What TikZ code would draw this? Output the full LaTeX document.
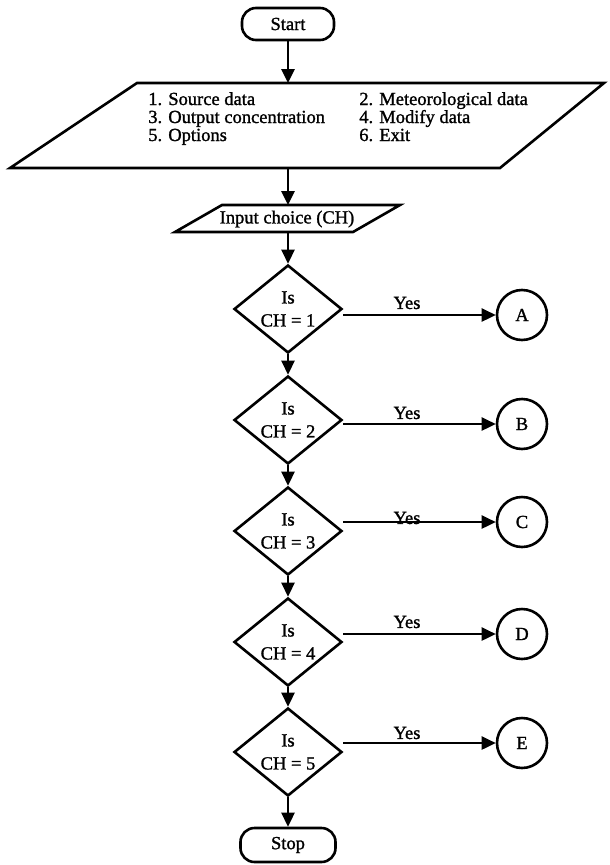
\documentclass[tikz,border=0pt]{standalone}
\usepackage{fontspec}
\setmainfont{Liberation Serif}
\newfontfamily\dfont{Liberation Serif}[FakeBold=1.3]
\usetikzlibrary{arrows.meta,shapes.geometric}
\newcommand\fsz{\dfont\fontsize{18.5}{23}\selectfont}
\begin{document}
\begin{tikzpicture}[x=1pt,y=-1pt,
  line width=2.6pt,
  arr/.style={-{Triangle[length=14pt,width=13pt]}},
  term/.style={draw, rounded corners=14pt, minimum width=92pt, minimum height=32pt, inner sep=0pt, font=\fsz},
  dec/.style={draw, diamond, aspect=1.23, minimum width=108pt, minimum height=88pt, inner sep=0pt, align=center, font=\fsz},
  conn/.style={draw, circle, minimum size=50pt, inner sep=0pt, font=\fsz},
  lbl/.style={font=\fsz, inner sep=0pt},
  txt/.style={font=\fsz, inner sep=0pt, anchor=base west}]
\useasboundingbox (0,0) rectangle (610,865);
% terminals
\node[term] (start) at (288,24) {Start};
\node[term, minimum width=95pt, minimum height=34pt] (stop) at (288,845) {Stop};
% menu parallelogram
\draw[line join=miter] (137,83) -- (604,83) -- (500,168) -- (10,168) -- cycle;
\coordinate (mtop) at (288,83);
\coordinate (mbot) at (288,168);
\node[txt] (m1) at (147,105) {1. Source data};
\node[txt] (m3) at (147,123) {3. Output concentration};
\node[txt] (m5) at (147,141) {5. Options};
\node[txt] (m2) at (358,105) {2. Meteorological data};
\node[txt] (m4) at (358,123) {4. Modify data};
\node[txt] (m6) at (358,141) {6. Exit};
% input parallelogram
\draw (222,205) -- (400,205) -- (353,232) -- (175,232) -- cycle;
\coordinate (itop) at (288,205);
\coordinate (ibot) at (288,232);
\node[lbl] (inp) at (287,219) {Input choice (CH)};
% decisions
\node[dec] (d1) at (288,309) {Is\\CH = 1};
\node[dec] (d2) at (288,420) {Is\\CH = 2};
\node[dec] (d3) at (288,531) {Is\\CH = 3};
\node[dec] (d4) at (288,642) {Is\\CH = 4};
\node[dec] (d5) at (288,752) {Is\\CH = 5};
% connectors
\node[conn] (a) at (522,315) {A};
\node[conn] (b) at (522,424) {B};
\node[conn] (c) at (522,522) {C};
\node[conn] (d) at (522,634) {D};
\node[conn] (e) at (522,743) {E};
% yes labels
\node[lbl] (y1) at (407,303) {Yes};
\node[lbl] (y2) at (407,413) {Yes};
\node[lbl] (y3) at (407,518) {Yes};
\node[lbl] (y4) at (407,622) {Yes};
\node[lbl] (y5) at (407,733) {Yes};
% arrows
\draw[arr] (start) -- (mtop);
\draw[arr] (mbot) -- (itop);
\draw[arr] (ibot) -- (d1);
\draw[arr] (d1) -- (d2);
\draw[arr] (d2) -- (d3);
\draw[arr] (d3) -- (d4);
\draw[arr] (d4) -- (d5);
\draw[arr] (d5) -- (stop);
\draw[arr] (d1.east |- a) -- (a);
\draw[arr] (d2.east |- b) -- (b);
\draw[arr] (d3.east |- c) -- (c);
\draw[arr] (d4.east |- d) -- (d);
\draw[arr] (d5.east |- e) -- (e);
\end{tikzpicture}
\end{document}
